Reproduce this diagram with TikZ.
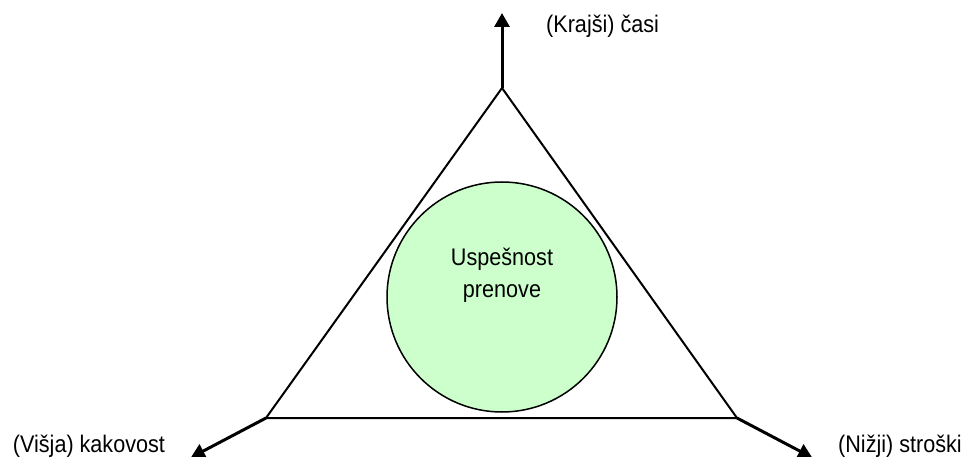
\documentclass[tikz,border=0pt]{standalone}
\usepackage{fontspec}
\setmainfont{Liberation Sans}
\usetikzlibrary{arrows.meta}
\definecolor{paleGreen}{RGB}{204,255,204}
% narrow, tall lettering
\newcommand{\narrowtext}[1]{\scalebox{0.9}[1]{#1}}
\tikzset{
  edgeline/.style={line width=2pt, line join=miter},
  axisarrow/.style={line width=3pt, -{Triangle[length=14pt,width=15pt]}},
  axislabel/.style={inner sep=0pt, font=\fontsize{24}{28}\selectfont},
  corecircle/.style={circle, draw=black, line width=1.5pt, fill=paleGreen, minimum size=230pt, inner sep=0pt},
}
\begin{document}
\begin{tikzpicture}[x=1pt,y=-1pt]
  \useasboundingbox (0,0) rectangle (967,457);

  % triangle corners
  \coordinate (apex) at (502,88);
  \coordinate (bl) at (266,418);
  \coordinate (br) at (737,418);

  % free ends of the three axes
  \coordinate (topend) at (502,13);
  \coordinate (leftend) at (190.8,457.6);
  \coordinate (rightend) at (812.2,457.6);

  % central circle and its caption
  \node[corecircle] (core) at (502,297) {};
  \node[inner sep=0pt, align=center, font=\fontsize{24}{32}\selectfont] (coretext) at (502,275)
    {\narrowtext{Uspešnost}\\\narrowtext{prenove}};

  % triangle
  \draw[edgeline] (apex) -- (bl) -- (br) -- cycle;

  % axes
  \draw[axisarrow] (apex) -- (topend);
  \draw[axisarrow] (bl) -- (leftend);
  \draw[axisarrow] (br) -- (rightend);

  % axis labels
  \node[axislabel, anchor=base west] (ltime) at (546,33) {\narrowtext{(Krajši) časi}};
  \node[axislabel, anchor=base west] (lquality) at (12.7,452.7) {\narrowtext{(Višja) kakovost}};
  \node[axislabel, anchor=base west] (lcost) at (838,452.7) {\narrowtext{(Nižji) stroški}};
\end{tikzpicture}
\end{document}
